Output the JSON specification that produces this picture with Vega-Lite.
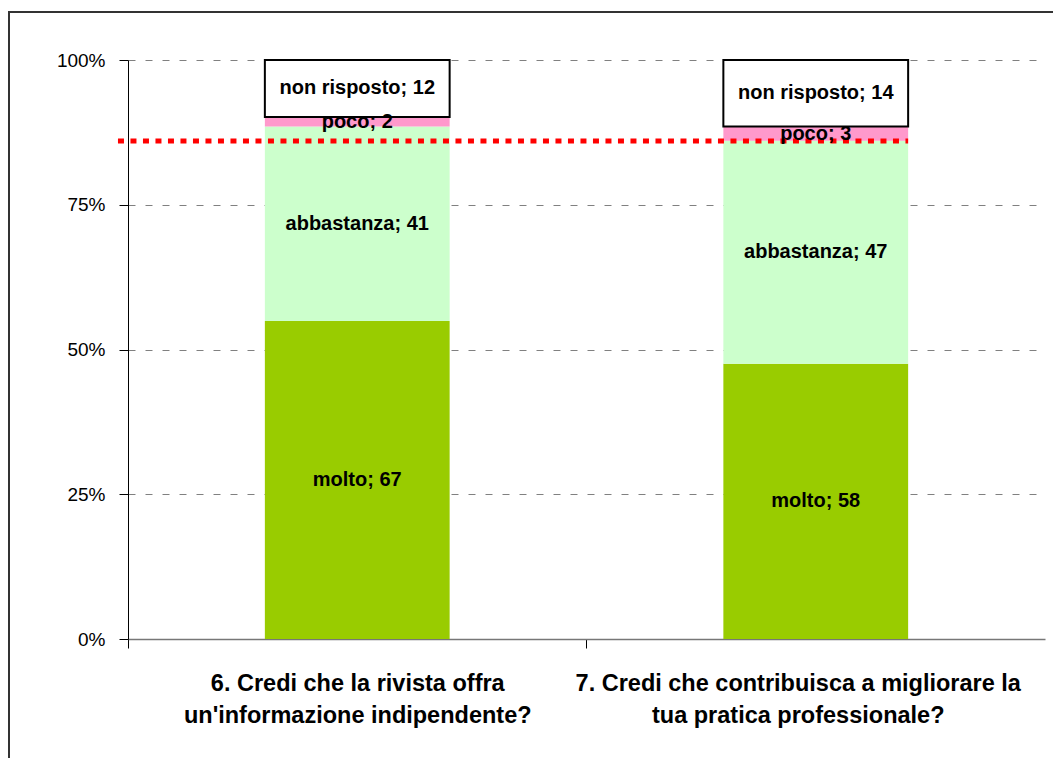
{
  "$schema": "https://vega.github.io/schema/vega-lite/v6.json",
  "width": 1064,
  "height": 766,
  "autosize": {"type": "none"},
  "padding": {"left": 9, "top": 12, "right": -20, "bottom": -20},
  "background": "white",
  "config": {
    "view": {"stroke": "#333333", "strokeWidth": 2},
    "font": "Liberation Sans"
  },
  "datasets": {
    "risposte": [
      {"domanda": "6. Credi che la rivista offra\nun'informazione indipendente?", "risposta": "molto", "n": 67},
      {"domanda": "6. Credi che la rivista offra\nun'informazione indipendente?", "risposta": "abbastanza", "n": 41},
      {"domanda": "6. Credi che la rivista offra\nun'informazione indipendente?", "risposta": "poco", "n": 2},
      {"domanda": "6. Credi che la rivista offra\nun'informazione indipendente?", "risposta": "non risposto", "n": 12},
      {"domanda": "7. Credi che contribuisca a migliorare la\ntua pratica professionale?", "risposta": "molto", "n": 58},
      {"domanda": "7. Credi che contribuisca a migliorare la\ntua pratica professionale?", "risposta": "abbastanza", "n": 47},
      {"domanda": "7. Credi che contribuisca a migliorare la\ntua pratica professionale?", "risposta": "poco", "n": 3},
      {"domanda": "7. Credi che contribuisca a migliorare la\ntua pratica professionale?", "risposta": "non risposto", "n": 14}
    ],
    "soglia": [
      {"livello": 0.86, "da": "6. Credi che la rivista offra\nun'informazione indipendente?", "a": "7. Credi che contribuisca a migliorare la\ntua pratica professionale?"}
    ]
  },
  "layer": [
    {
      "data": {"name": "risposte"},
      "transform": [
        {"calculate": "indexof(['molto','abbastanza','poco','non risposto'], datum.risposta)", "as": "ordine"},
        {"stack": "n", "groupby": ["domanda"], "sort": [{"field": "ordine", "order": "ascending"}], "offset": "normalize", "as": ["y0", "y1"]}
      ],
      "mark": {"type": "bar", "strokeWidth": 2},
      "encoding": {
        "x": {
          "field": "domanda",
          "type": "nominal",
          "sort": null,
          "scale": {"type": "band", "range": [119, 1036], "paddingInner": 0.597, "paddingOuter": 0.2985},
          "axis": {
            "title": null,
            "orient": "bottom",
            "offset": -139,
            "ticks": true,
            "tickSize": 9,
            "tickColor": "#000000",
            "tickOffset": -229.5,
            "domainColor": "#777777",
            "domainWidth": 1.5,
            "labelFont": "Liberation Sans",
            "labelFontWeight": "bold",
            "labelFontSize": 23.5,
            "labelColor": "#000000",
            "labelLineHeight": 32,
            "labelPadding": 23,
            "labelAngle": 0,
            "labelLimit": 700,
            "labelExpr": "split(datum.label, '\\n')",
            "labelOffset": {"condition": {"test": "datum.index > 0.5", "value": 211.5}, "value": 229.5}
          }
        },
        "y": {
          "field": "y0",
          "type": "quantitative",
          "scale": {"domain": [0, 1], "range": [627, 48], "nice": false},
          "axis": {
            "title": null,
            "offset": -119,
            "values": [0, 0.25, 0.5, 0.75, 1],
            "format": ".0%",
            "domainColor": "#000000",
            "tickColor": "#000000",
            "tickSize": 9,
            "labelFont": "Liberation Sans",
            "labelFontSize": 19,
            "labelColor": "#000000",
            "labelPadding": 14,
            "grid": true,
            "gridColor": "#808080",
            "gridDash": [7, 10],
            "gridWidth": 1
          }
        },
        "y2": {"field": "y1"},
        "color": {
          "field": "risposta",
          "type": "nominal",
          "scale": {"domain": ["molto", "abbastanza", "poco", "non risposto"], "range": ["#99CC00", "#CCFFCC", "#FF99CC", "#FFFFFF"]},
          "legend": null
        },
        "stroke": {"condition": {"test": "datum.risposta === 'non risposto'", "value": "#000000"}, "value": "transparent"}
      }
    },
    {
      "data": {"name": "soglia"},
      "mark": {"type": "rule", "color": "#FF0000", "strokeWidth": 5, "strokeDash": [6, 6.5]},
      "encoding": {
        "x": {"field": "da", "type": "nominal", "bandPosition": -0.795},
        "x2": {"field": "a", "bandPosition": 1},
        "y": {"field": "livello", "type": "quantitative"}
      }
    },
    {
      "data": {"name": "risposte"},
      "transform": [
        {"calculate": "indexof(['molto','abbastanza','poco','non risposto'], datum.risposta)", "as": "ordine"},
        {"stack": "n", "groupby": ["domanda"], "sort": [{"field": "ordine", "order": "ascending"}], "offset": "normalize", "as": ["y0", "y1"]},
        {"calculate": "(datum.y0 + datum.y1) / 2", "as": "ymid"},
        {"calculate": "datum.risposta + '; ' + datum.n", "as": "etichetta"}
      ],
      "mark": {"type": "text", "font": "Liberation Sans", "fontWeight": "bold", "fontSize": 20, "color": "#000000", "baseline": "middle", "align": "center"},
      "encoding": {
        "x": {"field": "domanda", "type": "nominal", "sort": null},
        "y": {"field": "ymid", "type": "quantitative"},
        "text": {"field": "etichetta"}
      }
    }
  ]
}
